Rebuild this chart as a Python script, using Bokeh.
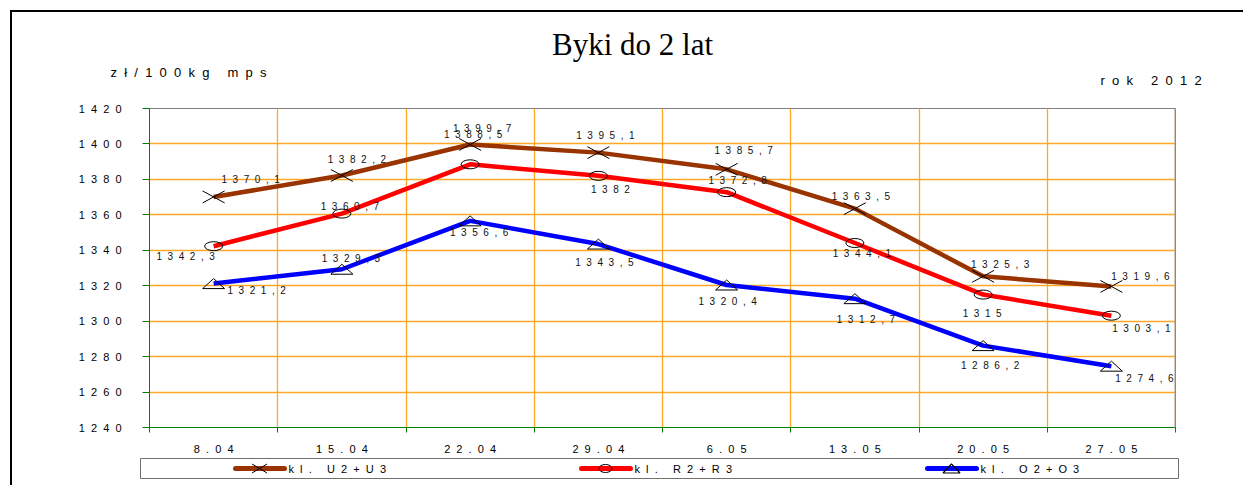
import numpy as np
from bokeh.plotting import figure
from bokeh.models import Range1d, FixedTicker, LabelSet, ColumnDataSource, Span
from bokeh.layouts import column
from bokeh.core.properties import value
from bokeh.embed import file_html
from bokeh.resources import INLINE

# ---------------- data ----------------
title_text = "Byki do 2 lat"
unit_text = "zł/100kg mps"
year_text = "rok 2012"
categories = ["8.04", "15.04", "22.04", "29.04", "6.05", "13.05", "20.05", "27.05"]
series_names = ["kl. U2+U3", "kl. R2+R3", "kl. O2+O3"]
u_values = [1370.1, 1382.2, 1399.7, 1395.1, 1385.7, 1363.5, 1325.3, 1319.6]
r_values = [1342.3, 1360.7, 1388.5, 1382.0, 1372.8, 1344.1, 1315.0, 1303.1]
o_values = [1321.2, 1329.3, 1356.6, 1343.5, 1320.4, 1312.7, 1286.2, 1274.6]
y_ticks = [1240, 1260, 1280, 1300, 1320, 1340, 1360, 1380, 1400, 1420]

# ---------------- style ----------------
COLORS = ["#993300", "#FF0000", "#0000FF"]
GREEN = "#008000"
ORANGE = "#FFA726"
FONT = "Liberation Sans"
GAP = "\u00a0\u00a0"

# label offsets in screen px (dx right, dy down) - layout only
u_off = [(37, -17), (15, -16), (12, -16), (7, -17), (17, -19), (6, -12), (17, -12), (29, -10)]
r_off = [(-28, 10), (8, -7), (3, -30), (12, 14), (11, -12), (7, 10), (-1, 19), (30, 13)]
o_off = [(43, 7), (9, -11), (9, 12), (6, 18), (1, 16), (11, 21), (7, 20), (33, 12)]


def spaced(s):
    return GAP.join(s)


def fmt(v):
    s = f"{v:.1f}"
    if s.endswith(".0"):
        s = s[:-2]
    return s.replace(".", ",")


W = 1231
# ---------------- header strip (title + side texts) ----------------
HH = 88
ph = figure(width=W, height=HH, output_backend="svg", toolbar_location=None,
            x_range=Range1d(0, W), y_range=Range1d(0, HH),
            x_axis_location=None, y_axis_location=None,
            min_border_left=0, min_border_right=0, min_border_top=0, min_border_bottom=0)
ph.frame_align = False
ph.grid.visible = False
ph.outline_line_color = None
ph.background_fill_color = "white"
ph.border_fill_color = "white"
ph.text(x=[620], y=[56], text=[title_text], text_align="center", text_baseline="alphabetic",
        text_font=value("Liberation Serif"), text_font_size=value("31px"), text_color="black")
ph.text(x=[98], y=[28], text=[spaced(unit_text)], text_align="left", text_baseline="alphabetic",
        text_font=value(FONT), text_font_size=value("13px"), text_color="black")
ph.text(x=[1088], y=[20], text=[spaced(year_text)], text_align="left", text_baseline="alphabetic",
        text_font=value(FONT), text_font_size=value("13px"), text_color="black")

# ---------------- main chart ----------------
MT, MB = 8, 29
FL, FR = 137, 1163
FH = 320
H = MT + FH + MB
n = len(categories)
XMAX = float(n)
YMIN, YMAX = y_ticks[0], y_ticks[-1]
PXX = XMAX / (FR - FL)
PXY = (YMAX - YMIN) / FH

p = figure(width=W, height=H, output_backend="svg", toolbar_location=None,
           x_range=Range1d(0, XMAX), y_range=Range1d(YMIN, YMAX),
           min_border_left=FL, min_border_right=W - FR,
           min_border_top=MT, min_border_bottom=MB)
p.frame_align = False
p.background_fill_color = "white"
p.border_fill_color = "white"
p.outline_line_color = "#808080"

xc = np.arange(n) + 0.5

# x axis
p.xaxis.ticker = FixedTicker(ticks=list(xc), minor_ticks=list(range(n + 1)))
p.xaxis.major_label_overrides = {float(x): spaced(c) for x, c in zip(xc, categories)}
p.xaxis.major_tick_line_color = None
p.xaxis.major_tick_out = 0
p.xaxis.major_tick_in = 0
p.xaxis.minor_tick_line_color = GREEN
p.xaxis.minor_tick_out = 5
p.xaxis.minor_tick_in = 0
p.xaxis.axis_line_color = GREEN
p.xaxis.major_label_standoff = 10
p.xaxis.major_label_text_font = FONT
p.xaxis.major_label_text_font_size = "11px"
p.xaxis.major_label_text_color = "black"

# y axis
p.yaxis.ticker = FixedTicker(ticks=y_ticks)
p.yaxis.major_label_overrides = {t: spaced(str(t)) for t in y_ticks}
p.yaxis.minor_tick_line_color = None
p.yaxis.major_tick_out = 7
p.yaxis.major_tick_in = 0
p.yaxis.major_tick_line_color = GREEN
p.yaxis.axis_line_color = GREEN
p.yaxis.major_label_standoff = 21
p.yaxis.major_label_text_font = FONT
p.yaxis.major_label_text_font_size = "11px"
p.yaxis.major_label_text_color = "black"

# grid
p.xgrid.ticker = FixedTicker(ticks=list(range(1, n)))
p.xgrid.grid_line_color = ORANGE
p.ygrid.grid_line_color = ORANGE
p.xgrid.grid_line_width = 1.3
p.ygrid.grid_line_width = 1.3

p.add_layout(Span(location=XMAX, dimension="height", line_color="#A89070", line_width=2))

# series lines
all_vals = [np.array(u_values), np.array(r_values), np.array(o_values)]
for vals, col in zip(all_vals, COLORS):
    p.line(xc, vals, line_color=col, line_width=4.5, line_join="round")

# markers: X for U
u = all_vals[0]
p.segment(x0=xc - 11 * PXX, y0=u - 6 * PXY, x1=xc + 11 * PXX, y1=u + 6 * PXY, line_color="black", line_width=1)
p.segment(x0=xc - 11 * PXX, y0=u + 6 * PXY, x1=xc + 11 * PXX, y1=u - 6 * PXY, line_color="black", line_width=1)
# ellipse for R
p.ellipse(x=xc, y=all_vals[1], width=18, height=9, width_units="screen", height_units="screen",
          fill_color=None, line_color="black", line_width=1)
# triangle for O
o = all_vals[2]
p.patches(xs=[[x - 11 * PXX, x + 11 * PXX, x] for x in xc],
          ys=[[y - 5 * PXY, y - 5 * PXY, y + 5 * PXY] for y in o],
          fill_color=None, line_color="black", line_width=1)

# data labels
for vals, offs in zip(all_vals, [u_off, r_off, o_off]):
    src = ColumnDataSource(dict(x=xc, y=vals, t=[spaced(fmt(v)) for v in vals],
                                dx=[d[0] for d in offs], dy=[-d[1] for d in offs]))
    p.add_layout(LabelSet(x="x", y="y", text="t", source=src, x_offset="dx", y_offset="dy",
                          text_align="center", text_baseline="middle",
                          text_font=value(FONT), text_font_size=value("10px"),
                          text_color=value("#111111")))

# ---------------- legend strip ----------------
LW, LH = 1038, 20
H2 = 28
p2 = figure(width=W, height=H2, output_backend="svg", toolbar_location=None,
            x_range=Range1d(0, LW), y_range=Range1d(0, LH),
            x_axis_location=None, y_axis_location=None,
            min_border_left=128, min_border_right=W - 128 - LW,
            min_border_top=1, min_border_bottom=H2 - 1 - LH)
p2.frame_align = False
p2.grid.visible = False
p2.outline_line_color = "#707070"
p2.background_fill_color = "white"
p2.border_fill_color = "white"

lx0 = 95 + 346 * np.arange(3)
ly = LH / 2
p2.segment(x0=lx0, y0=[ly] * 3, x1=lx0 + 49, y1=[ly] * 3, line_color=COLORS, line_width=5, line_cap="round")
mx = lx0 + 24
p2.segment(x0=[mx[0] - 7.5, mx[0] - 7.5], y0=[ly - 4.5, ly + 4.5], x1=[mx[0] + 7.5, mx[0] + 7.5],
           y1=[ly + 4.5, ly - 4.5], line_color="black", line_width=1)
p2.ellipse(x=[mx[1]], y=[ly], width=13, height=8, width_units="screen", height_units="screen",
           fill_color=None, line_color="black", line_width=1)
p2.patches(xs=[[mx[2] - 8.5, mx[2] + 8.5, mx[2]]], ys=[[ly - 4.5, ly - 4.5, ly + 4.5]],
           fill_color=None, line_color="black", line_width=1.2)
p2.text(x=lx0 + 53, y=[ly] * 3, text=[spaced(s) for s in series_names],
        text_align="left", text_baseline="middle", text_font=value(FONT),
        text_font_size=value("11px"), text_color="black")

layout = column(ph, p, p2, spacing=0,
                styles={"border-left": "2px solid black", "border-top": "2px solid black",
                        "margin-left": "10px", "margin-top": "10px"})

open("out.html", "w").write(file_html(layout, INLINE))
